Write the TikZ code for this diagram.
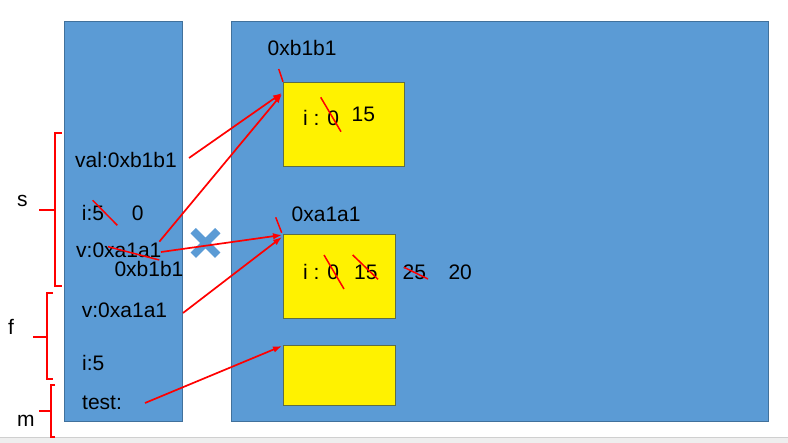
\documentclass[tikz,border=0pt]{standalone}
\usepackage{fontspec}
\setmainfont{Liberation Sans}
\usetikzlibrary{calc,shapes.misc,arrows.meta}
\definecolor{memblue}{HTML}{5B9BD5}
\definecolor{memedge}{HTML}{41719C}
\definecolor{boxedge}{HTML}{5E6E45}
\definecolor{band}{HTML}{EEEEEE}
\definecolor{bandline}{HTML}{CFCFCF}
\tikzset{
  mem/.style={fill=memblue, draw=memedge, line width=0.6pt},
  obj/.style={fill=yellow, draw=boxedge, line width=0.6pt, inner sep=0pt, anchor=north west},
  txt/.style={anchor=base west, inner sep=0pt, font=\fontsize{21}{25}\selectfont},
  ptr/.style={draw=red, line width=1.7pt, -{Latex[length=9pt,width=6.5pt]}},
  strike/.style={draw=red, line width=1.5pt},
  brk/.style={draw=red, line width=1.7pt},
}
\begin{document}
\begin{tikzpicture}[x=1pt,y=-1pt]
\useasboundingbox (0,0) rectangle (788,443);
\fill[white] (0,0) rectangle (788,443);
\fill[band] (0,437) rectangle (788,443);
\draw[bandline, line width=0.8pt] (0,437) -- (788,437);
% memory areas
\draw[mem] (64,21) rectangle (182,421);
\draw[mem] (231,21) rectangle (768,421);
% heap objects
\node[obj, minimum width=121pt, minimum height=84pt] (box1) at (283,82) {};
\node[obj, minimum width=112pt, minimum height=84pt] (box2) at (283,234) {};
\node[obj, minimum width=112pt, minimum height=60pt] (box3) at (283,345) {};
% heap labels
\node[txt] (lb1) at (267.5,55.5) {0xb1b1};
\node[txt] (lb2) at (291.5,221.5) {0xa1a1};
\draw[strike] (278.7,69) -- (283,81.7);
\draw[strike] (275.7,217.3) -- (281.7,232.7);
% box1 content
\node[txt] (b1i) at (303,126) {i : 0};
\node[txt] (b1v) at (351.5,121.5) {15};
\draw[strike] (320.7,97.3) -- (341,131.7);
% box2 content
\node[txt] (b2i) at (303,280) {i : 0};
\node[txt] (b2a) at (354,280) {15};
\node[txt] (b2b) at (402.5,280) {25};
\node[txt] (b2c) at (448.3,280) {20};
\draw[strike] (324,255) -- (344,289);
\draw[strike] (352.7,255) -- (378,279.3);
\draw[strike] (404,267.3) -- (428,279);
% stack content
\node[txt] (val) at (75,167.5) {val:0xb1b1};
\node[txt] (si) at (81.7,220.5) {i:5};
\node[txt] (si0) at (131.7,220.5) {0};
\draw[strike] (92.7,200.3) -- (117.3,225.3);
\node[txt] (sv) at (76,258) {v:0xa1a1};
\node[txt] (sv2) at (114.3,276.5) {0xb1b1};
\draw[strike] (108,246.7) -- (159.3,260);
\node[txt] (fv) at (81.7,318) {v:0xa1a1};
\node[txt] (fi) at (82,370.5) {i:5};
\node[txt] (test) at (82,410) {test:};
% frame labels and brackets
\node[txt] (s) at (17,207) {s};
\node[txt] (f) at (8,335) {f};
\node[txt] (m) at (17,426.5) {m};
\draw[brk] (62,133) -- (55,133) -- (55,285.7) -- (62,285.7);
\draw[brk] (55,210) -- (39,210);
\draw[brk] (53,293.3) -- (46.7,293.3) -- (46.7,379.3) -- (53,379.3);
\draw[brk] (46.7,336.7) -- (33,336.7);
\draw[brk] (55,385) -- (51,385) -- (51,436.7) -- (55,436.7);
\draw[brk] (51,410.7) -- (39,410.7);
% cross marker
\node[cross out, draw=memblue, line width=7.5pt, minimum size=17pt, inner sep=0pt] (xmark) at (205.5,243) {};
% pointer start points
\coordinate (pval) at (189,158);
\coordinate (psv1) at (159.3,241.7);
\coordinate (psv2) at (161,252);
\coordinate (pfv) at (183,313);
\coordinate (ptest) at (145,403);
% pointers
\draw[ptr] (pval) -- ($(box1.north west)+(-1,11)$);
\draw[ptr] (psv1) -- ($(box1.north west)+(-1,12)$);
\draw[ptr] (psv2) -- ($(box2.north west)+(-1,1)$);
\draw[ptr] (pfv) -- ($(box2.north west)+(-1,3)$);
\draw[ptr] (ptest) -- ($(box3.north west)+(-1,1)$);
\end{tikzpicture}
\end{document}
